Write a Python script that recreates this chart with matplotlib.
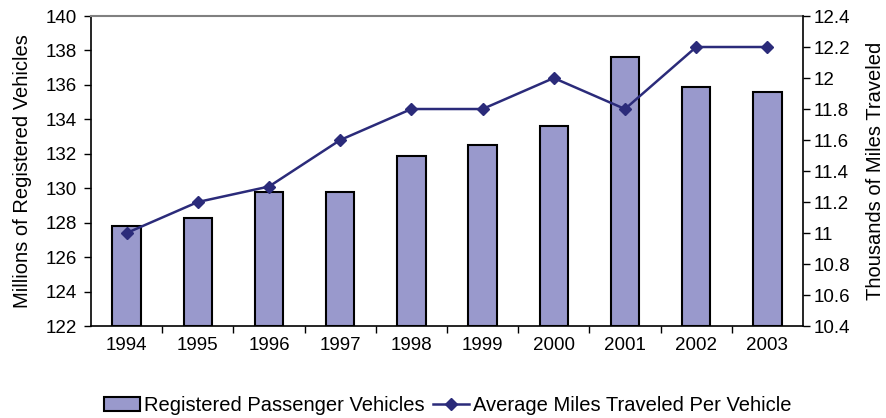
import matplotlib
matplotlib.use("Agg")
import matplotlib.pyplot as plt
import numpy as np
from matplotlib.ticker import FixedLocator, MultipleLocator

plt.rcParams['font.family'] = ['Liberation Sans', 'DejaVu Sans']

years = ['1994', '1995', '1996', '1997', '1998', '1999', '2000', '2001', '2002', '2003']
vehicles = [127.8, 128.3, 129.8, 129.8, 131.9, 132.5, 133.6, 137.6, 135.9, 135.6]
miles = [11.0, 11.2, 11.3, 11.6, 11.8, 11.8, 12.0, 11.8, 12.2, 12.2]
right_ticks = [10.4, 10.6, 10.8, 11.0, 11.2, 11.4, 11.6, 11.8, 12.0, 12.2, 12.4]

bar_color = '#9999CC'
line_color = '#2B2B7A'
TS = 13.5
LS = 14.5

fig = plt.figure(figsize=(8.86, 4.18), dpi=100)
ax = fig.add_axes([0.1027, 0.220, 0.8036, 0.7417])
x = np.arange(len(years))
b = ax.bar(x, [v - 122 for v in vehicles], bottom=122, width=0.4, color=bar_color,
           edgecolor='black', linewidth=1.5, label='Registered Passenger Vehicles', zorder=2)
ax.set_ylim(122, 140)
ax.set_xlim(-0.5, len(years) - 0.5)
ax.yaxis.set_major_locator(MultipleLocator(2))
ax.set_xticks(x)
ax.set_xticklabels(years)
ax.xaxis.set_minor_locator(FixedLocator(np.arange(0.5, len(years) - 0.5, 1)))
ax.tick_params(axis='x', which='major', length=0, labelsize=TS, pad=8)
ax.tick_params(axis='x', which='minor', length=5, width=1, direction='out')
ax.tick_params(axis='y', labelsize=TS, length=5, width=1, direction='out', pad=5)
ax.set_ylabel('Millions of Registered Vehicles', fontsize=LS, labelpad=10)
ax.spines['top'].set_color('#808080')
ax.spines['top'].set_linewidth(1.5)
ax.spines['left'].set_linewidth(1.2)
ax.spines['bottom'].set_linewidth(1.2)
ax.spines['right'].set_visible(False)

ax2 = ax.twinx()
ln, = ax2.plot(x, miles, color=line_color, linewidth=1.8, marker='D', markersize=6,
               label='Average Miles Traveled Per Vehicle', zorder=3)
ax2.set_ylim(10.4, 12.4)
ax2.yaxis.set_major_locator(FixedLocator(right_ticks))
ax2.set_yticklabels([f'{v:g}' for v in right_ticks])
ax2.tick_params(axis='y', labelsize=TS, length=5, width=1, direction='out', pad=3)
ax2.set_ylabel('Thousands of Miles Traveled', fontsize=LS, labelpad=11)
ax2.spines['right'].set_linewidth(1.2)
ax2.spines['top'].set_visible(False)
ax2.spines['left'].set_visible(False)
ax2.spines['bottom'].set_visible(False)

fig.legend([b, ln], ['Registered Passenger Vehicles', 'Average Miles Traveled Per Vehicle'],
           loc='center', bbox_to_anchor=(0.505, 0.03), ncol=2, frameon=False,
           fontsize=LS, handlelength=1.8, columnspacing=0.4, handletextpad=0.2)

fig.savefig('out.png', dpi=100)
